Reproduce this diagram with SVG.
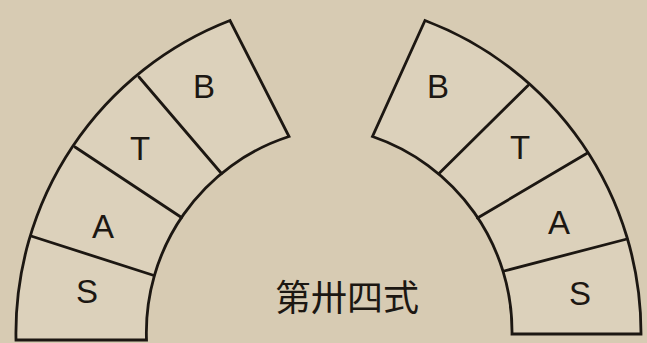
<svg xmlns="http://www.w3.org/2000/svg" width="647" height="343" viewBox="0 0 647 343">
  <style>
    .blk { fill: #dcd1bb; stroke: #1c1712; stroke-width: 2.8; stroke-linejoin: miter; }
    .div { fill: none; stroke: #1c1712; stroke-width: 2.8; stroke-linecap: round; }
    .lbl { font-family: "Liberation Sans", "DejaVu Sans", sans-serif; font-size: 33px; fill: #1c1712; text-anchor: middle; dominant-baseline: central; }
    .cap { font-family: "Noto Sans CJK SC", "Noto Sans CJK TC", sans-serif; font-size: 36px; fill: #1c1712; text-anchor: middle; dominant-baseline: central; }
  </style>
  <rect x="0" y="0" width="647" height="343" fill="#d7cbb3"/>

  <g id="left-arch">
    <path class="blk" d="M16,340 A335,335 0 0 1 230,20.5 L289,136.5 A206,206 0 0 0 146.5,340 Z"/>
    <g id="left-S"><text class="lbl" x="87" y="291">S</text></g>
    <g id="left-A"><text class="lbl" x="103" y="226">A</text></g>
    <g id="left-T"><text class="lbl" x="140" y="148">T</text></g>
    <g id="left-B"><text class="lbl" x="204" y="86">B</text></g>
  </g>

  <g id="right-arch">
    <path class="blk" d="M641,334 A334,334 0 0 0 425,20.5 L372.5,136.5 A206,206 0 0 1 512,334 Z"/>
    <g id="right-B"><text class="lbl" x="438" y="86">B</text></g>
    <g id="right-T"><text class="lbl" x="520" y="147">T</text></g>
    <g id="right-A"><text class="lbl" x="559" y="222">A</text></g>
    <g id="right-S"><text class="lbl" x="580" y="293">S</text></g>
  </g>

  <g id="connectors">
    <line class="div" x1="31" y1="236" x2="154" y2="275.5"/>
    <line class="div" x1="75" y1="147" x2="181.5" y2="217.5"/>
    <line class="div" x1="139" y1="77" x2="221.5" y2="173.5"/>
    <line class="div" x1="627" y1="239" x2="504" y2="271"/>
    <line class="div" x1="587.5" y1="153" x2="477.5" y2="218"/>
    <line class="div" x1="528" y1="85.5" x2="439" y2="173.5"/>
  </g>

  <g id="caption">
    <text class="cap" x="347" y="295">第卅四式</text>
  </g>
</svg>
